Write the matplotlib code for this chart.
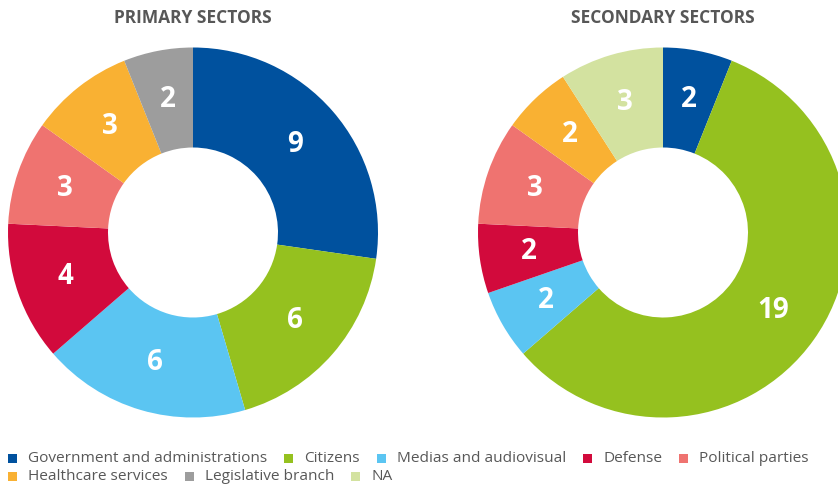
import matplotlib
matplotlib.use("Agg")
import matplotlib.pyplot as plt
from matplotlib.patches import Rectangle

plt.rcParams['font.family'] = ['Open Sans', 'DejaVu Sans']

categories = ["Government and administrations", "Citizens", "Medias and audiovisual",
              "Defense", "Political parties", "Healthcare services", "Legislative branch", "NA"]
colors = {"Government and administrations": "#00519e", "Citizens": "#95c11f",
          "Medias and audiovisual": "#5bc5f2", "Defense": "#d20a3c",
          "Political parties": "#ef7370", "Healthcare services": "#f9b133",
          "Legislative branch": "#9d9d9d", "NA": "#d3e2a0"}

primary_labels = ["Government and administrations", "Citizens", "Medias and audiovisual",
                  "Defense", "Political parties", "Healthcare services", "Legislative branch"]
primary_values = [9, 6, 6, 4, 3, 3, 2]

secondary_labels = ["Government and administrations", "Citizens", "Medias and audiovisual",
                    "Defense", "Political parties", "Healthcare services", "NA"]
secondary_values = [2, 19, 2, 2, 3, 2, 3]

W, H = 838, 486
fig = plt.figure(figsize=(W / 100, H / 100), dpi=100)
ax = fig.add_axes([0, 0, 1, 1])

R = 185
hole = 85
for labels, vals, cx, title in [(primary_labels, primary_values, 193, "PRIMARY SECTORS"),
                                (secondary_labels, secondary_values, 663, "SECONDARY SECTORS")]:
    cy = 232.5
    # y axis is inverted below, so counterclockwise in data = clockwise on screen
    ax.pie(vals, colors=[colors[l] for l in labels], startangle=-90,
           counterclock=True, center=(cx, cy), radius=R,
           wedgeprops=dict(width=R - hole, linewidth=0),
           labels=[str(v) for v in vals], labeldistance=0.73,
           textprops=dict(color='white', fontsize=20, fontweight='bold',
                          ha='center', va='center'))
    ax.text(cx, 18, title, ha='center', va='center', fontsize=12.5, fontweight='bold', color='#575757')

ax.set_xlim(0, W)
ax.set_ylim(H, 0)
ax.set_aspect('equal')
ax.axis('off')

# legend (flow layout)
fig.canvas.draw()
renderer = fig.canvas.get_renderer()
rows = [categories[:5], categories[5:]]
ys = [458, 476]
for row, y in zip(rows, ys):
    x = 8
    for cat in row:
        ax.add_patch(Rectangle((x, y - 4.5), 9, 9, facecolor=colors[cat], edgecolor='none'))
        t = ax.text(x + 20, y + 0.5, cat, ha='left', va='center', fontsize=11.1,
                    color='#585858')
        bb = t.get_window_extent(renderer=renderer)
        x = x + 20 + bb.width + 17

fig.savefig("out.png", dpi=100)
